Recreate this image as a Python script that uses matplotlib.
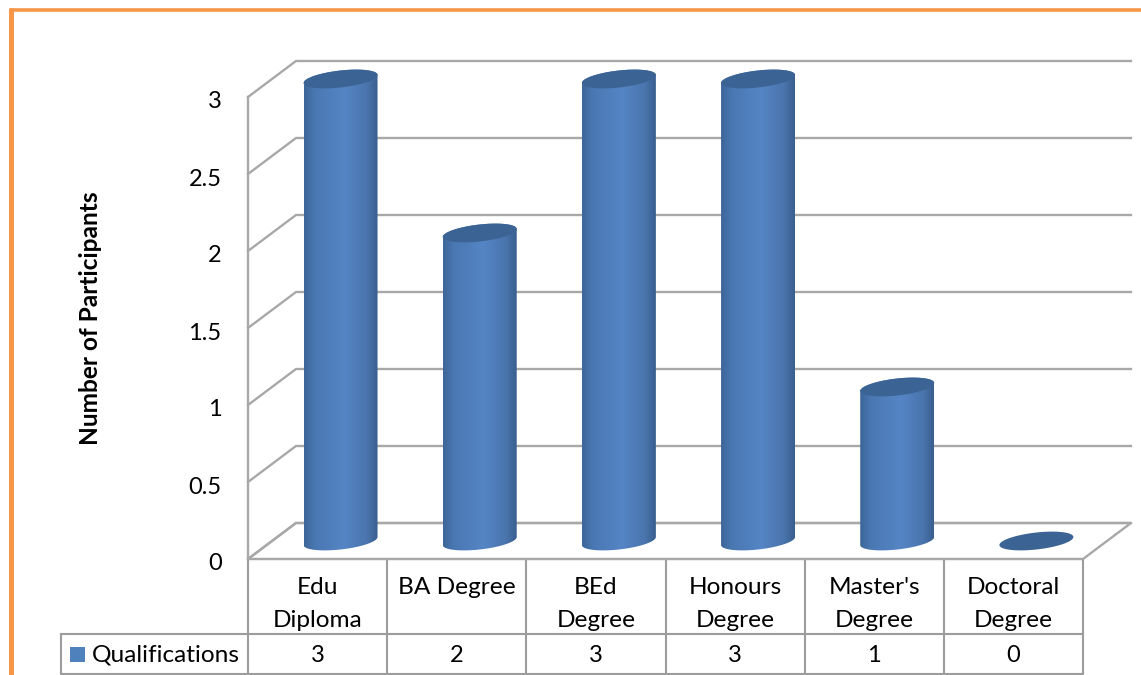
import numpy as np
from matplotlib import pyplot as plt
from matplotlib.colors import LinearSegmentedColormap
from matplotlib.patches import PathPatch, Polygon
from matplotlib.path import Path
from matplotlib.transforms import ScaledTranslation

plt.rcParams['font.family'] = ['Lato', 'DejaVu Sans']

categories = ['Edu\nDiploma', 'BA Degree', 'BEd\nDegree', 'Honours\nDegree', "Master's\nDegree", 'Doctoral\nDegree']
values = [3, 2, 3, 3, 1, 0]
series_name = 'Qualifications'
yticks = [0, 0.5, 1, 1.5, 2, 2.5, 3]
yticklabels = ['0', '0.5', '1', '1.5', '2', '2.5', '3']

W, H = 1141, 675
LEFT, RIGHT, TOP, BOTTOM = 248, 1083, 97, 559
GRID = '#a8a8a8'
TABLE = '#9c9c9c'
ORANGE = '#f79646'
CAP = '#3b6494'
FS = 17.6

fig = plt.figure(figsize=(W / 100, H / 100), dpi=100)

# pixel layer for frame and data table
bg = fig.add_axes([0, 0, 1, 1])
bg.set_xlim(0, W)
bg.set_ylim(H, 0)
bg.axis('off')
bg.plot([9.5, W], [9.5, 9.5], color=ORANGE, lw=2.6, solid_capstyle='butt')
bg.plot([10.5, 10.5], [8, H], color=ORANGE, lw=3.6, solid_capstyle='butt')

ax = fig.add_axes([LEFT / W, 1 - BOTTOM / H, (RIGHT - LEFT) / W, (BOTTOM - TOP) / H])
ax.patch.set_alpha(0)
n = len(categories)
ax.set_xlim(0, n)
ax.set_ylim(0, 3)
for s in ax.spines.values():
    s.set_visible(False)
ax.set_xticks([])
ax.set_yticks(yticks, yticklabels, fontsize=17)
ax.tick_params(axis='y', length=0, pad=19)
for lab in ax.get_yticklabels():
    lab.set_transform(lab.get_transform() + ScaledTranslation(0, -3 / 100, fig.dpi_scale_trans))

# depth of the 3d box, in data units
dx = 48 / 139.2
dy = 36 / 154

for v in yticks:
    ax.plot([0, dx, n + dx], [v, v + dy, v + dy], color=GRID, lw=1.7, clip_on=False, zorder=1)
ax.plot([0, 0], [0, 3], color=GRID, lw=1.7, clip_on=False, zorder=1)
ax.add_patch(Polygon([(0, 0), (dx, dy), (n + dx, dy), (n, 0)], closed=True, fill=False,
                     edgecolor=GRID, lw=1.7, clip_on=False, zorder=1))

# cylinders
grad = LinearSegmentedColormap.from_list('cyl', [(0, '#3d6699'), (0.15, '#4a78b3'), (0.55, '#5585c5'),
                                                 (0.85, '#4a75ad'), (1, '#3a5f8f')])
a = 37 / 139.2
b = 8.5 / 154
tilt = 4 / 154
t = np.linspace(0, 2 * np.pi, 121)


def ellipse(cx, cy):
    return cx + a * np.cos(t), cy + b * np.sin(t) + tilt * np.cos(t)


for i, v in enumerate(values):
    cx = i + 0.5 + 0.165
    base = dy / 2
    top = base + v
    xe, ye = ellipse(cx, top)
    if v > 0:
        # outline: lower half of the base, then upper half of the top
        lower = t[60:121]
        xs = np.r_[cx + a * np.cos(lower), cx + a * np.cos(lower[::-1])]
        ys = np.r_[base + b * np.sin(lower) + tilt * np.cos(lower),
                   top - b * np.sin(lower[::-1]) + tilt * np.cos(lower[::-1])]
        clip = PathPatch(Path(np.c_[xs, ys]), transform=ax.transData, facecolor='none', edgecolor='none')
        ax.add_patch(clip)
        clip.set_clip_on(False)
        im = ax.imshow(np.linspace(0, 1, 200)[None, :], cmap=grad, aspect='auto', zorder=3,
                       extent=[cx - a, cx + a, base - 0.1, top + 0.1])
        im.set_clip_path(clip)
        im.set_clip_box(fig.bbox)
    ax.fill(xe, ye, color=CAP, zorder=4, clip_on=False, lw=0)

ax.set_xlim(0, n)
ax.set_ylim(0, 3)

# data table under the plot
col_w = (RIGHT - LEFT) / n
row_top, row_bot = 634, 674
for i in range(n + 1):
    x = LEFT + i * col_w
    bg.plot([x, x], [BOTTOM, row_bot], color=TABLE, lw=1.5, solid_capstyle='butt')
bg.plot([61, 61], [row_top, row_bot], color=TABLE, lw=1.5, solid_capstyle='butt')
bg.plot([61, RIGHT], [row_top, row_top], color=TABLE, lw=1.5)
bg.plot([61, RIGHT], [row_bot, row_bot], color=TABLE, lw=1.5)
bg.plot([LEFT, RIGHT], [BOTTOM, BOTTOM], color=TABLE, lw=1.5)

for i, (c, v) in enumerate(zip(categories, values)):
    x = LEFT + (i + 0.5) * col_w
    lines = c.split('\n')
    for y, line in zip([587.5, 620.5] if len(lines) > 1 else [587.5], lines):
        bg.text(x, y, line, ha='center', va='center', fontsize=FS)
    bg.text(x, 655.5, str(v), ha='center', va='center', fontsize=17)

bg.fill([70, 85, 85, 70], [647, 647, 662, 662], color='#4f81bd', lw=0)
bg.text(92, 655, series_name, ha='left', va='center', fontsize=FS)
bg.text(91, 318, 'Number of Participants', rotation=90, ha='center', va='center',
        fontsize=FS, fontweight='bold')

fig.savefig('out.png', dpi=100)
